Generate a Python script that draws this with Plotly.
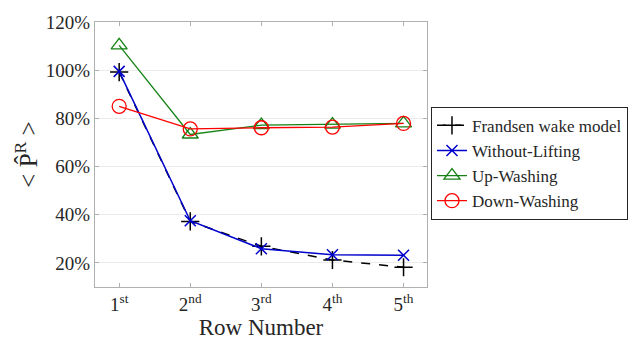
import plotly.graph_objects as go

rows = [1, 2, 3, 4, 5]
row_labels = ["1<sup>st</sup>", "2<sup>nd</sup>", "3<sup>rd</sup>", "4<sup>th</sup>", "5<sup>th</sup>"]
frandsen = [99.2, 37.2, 26.9, 21.2, 18.2]
without_lifting = [99.5, 37.5, 25.9, 23.4, 23.2]
up_washing = [110.3, 73.3, 77.2, 77.4, 77.9]
down_washing = [85.0, 75.6, 76.1, 76.4, 77.9]
y_ticks = [20, 40, 60, 80, 100, 120]
y_tick_labels = ["20%", "40%", "60%", "80%", "100%", "120%"]

FONT = "Liberation Serif"

fig = go.Figure()
fig.add_trace(go.Scatter(x=rows, y=frandsen, name="Frandsen wake model", mode="lines+markers",
                         line=dict(color="black", width=1.5, dash="dash"),
                         marker=dict(symbol="cross-thin-open", size=13, line=dict(color="black", width=1.5))))
fig.add_trace(go.Scatter(x=rows, y=without_lifting, name="Without-Lifting", mode="lines+markers",
                         line=dict(color="rgb(0,0,205)", width=1.5),
                         marker=dict(symbol="x-thin-open", size=11, line=dict(color="rgb(0,0,205)", width=1.5))))
fig.add_trace(go.Scatter(x=rows, y=up_washing, name="Up-Washing", mode="lines+markers",
                         line=dict(color="rgb(20,130,20)", width=1.3),
                         marker=dict(symbol="triangle-up-open", size=14, line=dict(color="rgb(20,130,20)", width=1.3))))
fig.add_trace(go.Scatter(x=rows, y=down_washing, name="Down-Washing", mode="lines+markers",
                         line=dict(color="rgb(255,0,0)", width=1.3),
                         marker=dict(symbol="circle-open", size=14, line=dict(color="rgb(255,0,0)", width=1.3))))

fig.update_layout(
    width=640, height=347,
    margin=dict(l=95, r=213, t=18, b=54),
    paper_bgcolor="white", plot_bgcolor="white",
    font=dict(family=FONT, color="#262626", size=18),
    showlegend=True,
    legend=dict(x=1.012, y=0.68, xanchor="left", yanchor="top",
                bordercolor="#262626", borderwidth=1, bgcolor="white",
                font=dict(family=FONT, size=17, color="#262626"),
                tracegroupgap=0, itemwidth=30),
    xaxis=dict(range=[0.66, 5.33], tickvals=rows, ticktext=row_labels,
               showgrid=False, zeroline=False,
               showline=True, linecolor="#b0b0b0", linewidth=1, mirror="ticks",
               ticks="inside", ticklen=4, tickcolor="#b0b0b0",
               tickfont=dict(family=FONT, size=19, color="#262626"),
               title=dict(text="Row Number", font=dict(family=FONT, size=23, color="#262626"), standoff=4)),
    yaxis=dict(range=[10, 120], tickvals=y_ticks, ticktext=y_tick_labels,
               showgrid=True, gridcolor="#ebebeb", gridwidth=1, zeroline=False,
               showline=True, linecolor="#b0b0b0", linewidth=1, mirror="ticks",
               ticks="inside", ticklen=4, tickcolor="#b0b0b0",
               tickfont=dict(family=FONT, size=19, color="#262626"),
               title=dict(text="&lt; P\u0302<sup>R</sup> &gt;", font=dict(family=FONT, size=25, color="#262626"), standoff=1)),
)

fig.write_html("out.html")
